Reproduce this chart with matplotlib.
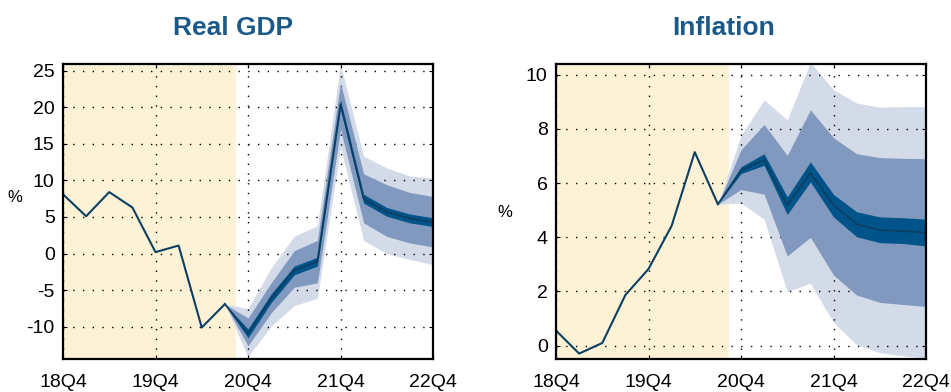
import matplotlib.pyplot as plt
import numpy as np

plt.rcParams['font.family'] = ['Liberation Sans', 'DejaVu Sans']

# Quartale 18Q4 .. 22Q4
quarters = ['18Q4', '19Q1', '19Q2', '19Q3', '19Q4', '20Q1', '20Q2', '20Q3', '20Q4',
            '21Q1', '21Q2', '21Q3', '21Q4', '22Q1', '22Q2', '22Q3', '22Q4']
tick_labels = ['18Q4', '19Q4', '20Q4', '21Q4', '22Q4']

# Real GDP: Historie (18Q4..20Q3) und Prognose (20Q3..22Q4)
gdp_hist = [8.1, 5.1, 8.4, 6.3, 0.2, 1.1, -10.1, -6.9]
gdp_median = [-6.9, -10.9, -6.1, -2.3, -1.1, 20.4, 7.5, 5.7, 4.8, 4.3]
gdp_dark_lo = [-6.9, -11.5, -6.7, -2.9, -1.7, 19.8, 6.9, 5.1, 4.2, 3.7]
gdp_dark_hi = [-6.9, -10.3, -5.5, -1.7, -0.5, 21.0, 8.1, 6.3, 5.4, 4.9]
gdp_mid_lo = [-6.9, -12.6, -8.1, -4.6, -4.0, 17.0, 4.2, 2.35, 1.45, 0.9]
gdp_mid_hi = [-6.9, -8.8, -4.0, 0.4, 1.8, 23.3, 10.9, 9.4, 8.35, 7.8]
gdp_out_lo = [-6.9, -14.1, -9.9, -7.1, -6.1, 14.5, 1.8, 0.0, -0.8, -1.5]
gdp_out_hi = [-6.9, -7.5, -2.0, 2.4, 3.8, 25.8, 13.3, 11.7, 10.6, 10.3]

# Inflation
inf_hist = [0.56, -0.29, 0.1, 1.87, 2.83, 4.42, 7.14, 5.22]
inf_median = [5.22, 6.47, 6.86, 5.18, 6.37, 5.18, 4.49, 4.26, 4.23, 4.17]
inf_dark_lo = [5.22, 6.35, 6.65, 4.84, 6.04, 4.75, 4.02, 3.80, 3.77, 3.68]
inf_dark_hi = [5.22, 6.60, 7.08, 5.49, 6.78, 5.58, 4.94, 4.75, 4.72, 4.67]
inf_mid_lo = [5.22, 5.76, 5.59, 3.31, 4.00, 2.61, 1.87, 1.60, 1.52, 1.45]
inf_mid_hi = [5.22, 7.23, 8.16, 7.02, 8.70, 7.67, 7.08, 6.94, 6.91, 6.90]
inf_out_lo = [5.22, 5.27, 4.66, 2.00, 2.30, 0.86, 0.04, -0.25, -0.37, -0.45]
inf_out_hi = [5.22, 7.75, 9.07, 8.33, 10.45, 9.44, 8.95, 8.80, 8.82, 8.82]

# Farben
shade_col = '#fdf2d5'
light_col = '#d3dae8'
mid_col = '#8199be'
dark_col = '#00548a'
line_col = '#0b3f63'
title_col = '#1b5a88'

fig = plt.figure(figsize=(9.51, 3.92), dpi=100)
ax1 = fig.add_axes([63 / 951, 33 / 392, 370 / 951, 295 / 392])
ax2 = fig.add_axes([556 / 951, 33 / 392, 370 / 951, 295 / 392])


def fan_panel(ax, hist, med, dlo, dhi, mlo, mhi, olo, ohi, ylim, yticks):
    x = np.arange(len(quarters))
    xh = x[:len(hist)]
    xf = x[len(hist) - 1:]
    ax.axvspan(0, 7.5, color=shade_col, lw=0, zorder=0)
    ax.fill_between(xf, olo, ohi, color=light_col, lw=0, zorder=2)
    ax.fill_between(xf, mlo, mhi, color=mid_col, lw=0, zorder=3)
    ax.fill_between(xf, dlo, dhi, color=dark_col, lw=0, zorder=4)
    ax.plot(xf, med, color=line_col, lw=1.3, zorder=5)
    ax.plot(xh, hist, color=line_col, lw=1.5, zorder=5)

    ax.set_xlim(0, 16)
    ax.set_ylim(*ylim)
    ax.set_xticks([0, 4, 8, 12, 16])
    ax.set_xticklabels(tick_labels)
    ax.set_yticks(yticks)
    ax.set_yticklabels([str(t) for t in yticks])
    ax.grid(True, color='black', linestyle=(0, (1, 6)), linewidth=1.0, zorder=1)
    ax.set_axisbelow(False)
    ax.tick_params(direction='in', length=3, width=0.8, top=True, right=True,
                   labelsize=14, pad=6)
    ax.tick_params(axis='x', pad=11)
    for s in ax.spines.values():
        s.set_linewidth(1.6)
        s.set_zorder(6)


fan_panel(ax1, gdp_hist, gdp_median, gdp_dark_lo, gdp_dark_hi, gdp_mid_lo, gdp_mid_hi,
          gdp_out_lo, gdp_out_hi, (-14.4, 25.9), [-10, -5, 0, 5, 10, 15, 20, 25])
fan_panel(ax2, inf_hist, inf_median, inf_dark_lo, inf_dark_hi, inf_mid_lo, inf_mid_hi,
          inf_out_lo, inf_out_hi, (-0.49, 10.39), [0, 2, 4, 6, 8, 10])

# Grid über den Flächen zeichnen
for ax in (ax1, ax2):
    for gl in ax.get_xgridlines() + ax.get_ygridlines():
        gl.set_zorder(5.5)

fig.text(233 / 951, 1 - 35 / 392, 'Real GDP', ha='center', va='baseline',
         fontsize=19, fontweight='bold', color=title_col)
fig.text(724 / 951, 1 - 35 / 392, 'Inflation', ha='center', va='baseline',
         fontsize=19, fontweight='bold', color=title_col)
fig.text(15 / 951, 1 - 198 / 392, '%', ha='center', va='center', fontsize=12)
fig.text(505 / 951, 1 - 212 / 392, '%', ha='center', va='center', fontsize=12)

fig.savefig('out.png', dpi=100)
